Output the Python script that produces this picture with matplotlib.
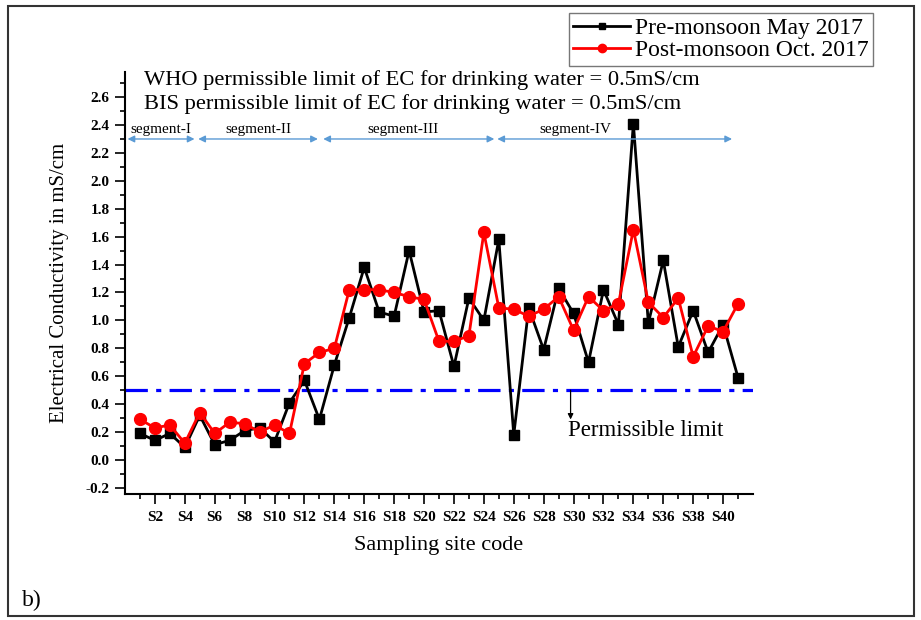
import matplotlib
matplotlib.use("Agg")
import matplotlib.pyplot as plt
from matplotlib.ticker import MultipleLocator, FixedLocator, FixedFormatter
from matplotlib.patches import Rectangle
from matplotlib.lines import Line2D

plt.rcParams['font.family'] = ['Liberation Serif', 'DejaVu Serif']

sites = list(range(1, 42))
pre_monsoon = [0.19, 0.14, 0.19, 0.09, 0.32, 0.11, 0.14, 0.21, 0.23, 0.13,
               0.41, 0.57, 0.29, 0.68, 1.02, 1.38, 1.06, 1.03, 1.50, 1.06,
               1.07, 0.67, 1.16, 1.00, 1.58, 0.18, 1.09, 0.79, 1.23, 1.05,
               0.70, 1.22, 0.97, 2.41, 0.98, 1.43, 0.81, 1.07, 0.77, 0.97, 0.59]
post_monsoon = [0.29, 0.23, 0.25, 0.12, 0.34, 0.19, 0.27, 0.26, 0.20, 0.25,
                0.19, 0.69, 0.77, 0.80, 1.22, 1.22, 1.22, 1.20, 1.17, 1.15,
                0.85, 0.85, 0.89, 1.63, 1.09, 1.08, 1.03, 1.08, 1.17, 0.93,
                1.17, 1.07, 1.12, 1.65, 1.13, 1.02, 1.16, 0.74, 0.96, 0.92, 1.12]
tick_positions = list(range(2, 41, 2))
tick_labels = ["S%d" % i for i in tick_positions]
limit = 0.5
segment_names = ["segment-I", "segment-II", "segment-III", "segment-IV"]
segment_starts = [0.17, 4.9, 13.26, 24.9]
segment_ends = [4.65, 12.9, 24.7, 40.6]
segment_label_x = [2.4, 8.9, 18.6, 30.1]

fig = plt.figure(figsize=(9.21, 6.2), dpi=100)
ax = fig.add_axes([125/921, 1 - 494/620, (753-125)/921, (494-72)/620])

ax.plot(sites, pre_monsoon, color='black', marker='s', markersize=7, lw=2.0,
        label='Pre-monsoon May 2017', zorder=3)
ax.plot(sites, post_monsoon, color='red', marker='o', markersize=8.5, lw=2.0,
        label='Post-monsoon Oct. 2017', zorder=4)
ax.axhline(limit, color='blue', lw=2.3, dashes=(7, 2.6, 1.6, 2.6), zorder=2)

ax.set_xlim(0, 42)
ax.set_ylim(-0.244, 2.78)
ax.yaxis.set_major_locator(MultipleLocator(0.2))
ax.yaxis.set_minor_locator(MultipleLocator(0.1))
ax.yaxis.set_major_formatter(matplotlib.ticker.FormatStrFormatter('%.1f'))
ax.xaxis.set_major_locator(FixedLocator(tick_positions))
ax.xaxis.set_major_formatter(FixedFormatter(tick_labels))
ax.xaxis.set_minor_locator(FixedLocator(list(range(1, 42, 2))))
ax.tick_params(axis='both', which='major', direction='out', length=7, width=1.2, labelsize=11)
ax.tick_params(axis='both', which='minor', direction='out', length=3.5, width=1.2)
ax.tick_params(axis='x', which='major', pad=5)
ax.tick_params(axis='y', which='major', pad=4)
for lbl in ax.get_xticklabels() + ax.get_yticklabels():
    lbl.set_fontweight('bold')
ax.spines['top'].set_visible(False)
ax.spines['right'].set_visible(False)
ax.spines['left'].set_linewidth(1.5)
ax.spines['bottom'].set_linewidth(1.5)

ax.set_xlabel('Sampling site code', fontsize=16, labelpad=9)
ax.set_ylabel('Electrical Conductivity in mS/cm', fontsize=15, labelpad=12)

ax.text(1.25, 2.72, 'WHO permissible limit of EC for drinking water = 0.5mS/cm',
        fontsize=16.2, va='center', ha='left')
ax.text(1.25, 2.55, 'BIS permissible limit of EC for drinking water = 0.5mS/cm',
        fontsize=16.2, va='center', ha='left')

seg_color = '#5b9bd5'
for name, x0, x1, lx in zip(segment_names, segment_starts, segment_ends, segment_label_x):
    ax.annotate('', xy=(x0, 2.30), xytext=(x1, 2.30),
                arrowprops=dict(arrowstyle='<|-|>', color=seg_color, lw=1.0,
                                mutation_scale=10, shrinkA=0, shrinkB=0))
    ax.text(lx, 2.32, name, fontsize=11, ha='center', va='bottom')

ax.annotate('', xy=(29.8, 0.29), xytext=(29.8, 0.5),
            arrowprops=dict(arrowstyle='-|>', color='black', lw=0.9,
                            mutation_scale=8, shrinkA=0, shrinkB=0))
ax.text(29.6, 0.21, 'Permissible limit', fontsize=16.5, ha='left', va='center')

handles = [Line2D([], [], color='black', marker='s', markersize=5, lw=2),
           Line2D([], [], color='red', marker='o', markersize=6, lw=2)]
leg = fig.legend(handles, ['Pre-monsoon May 2017', 'Post-monsoon Oct. 2017'],
                 loc='upper right', bbox_to_anchor=(873/921, 1 - 13/620),
                 fontsize=17, frameon=True, fancybox=False, edgecolor='#555555',
                 handlelength=2.4, handletextpad=0.2, borderpad=0.2,
                 labelspacing=0.0, borderaxespad=0)
leg.get_frame().set_linewidth(1.0)

fig.text(22/921, 1 - 600/620, 'b)', fontsize=17, ha='left', va='center')

fig.patches.append(Rectangle((8/921, 4/620), (914-8)/921, (614-4)/620,
                             transform=fig.transFigure, fill=False,
                             edgecolor='#333333', lw=1.5))

fig.savefig('out.png', dpi=100)
